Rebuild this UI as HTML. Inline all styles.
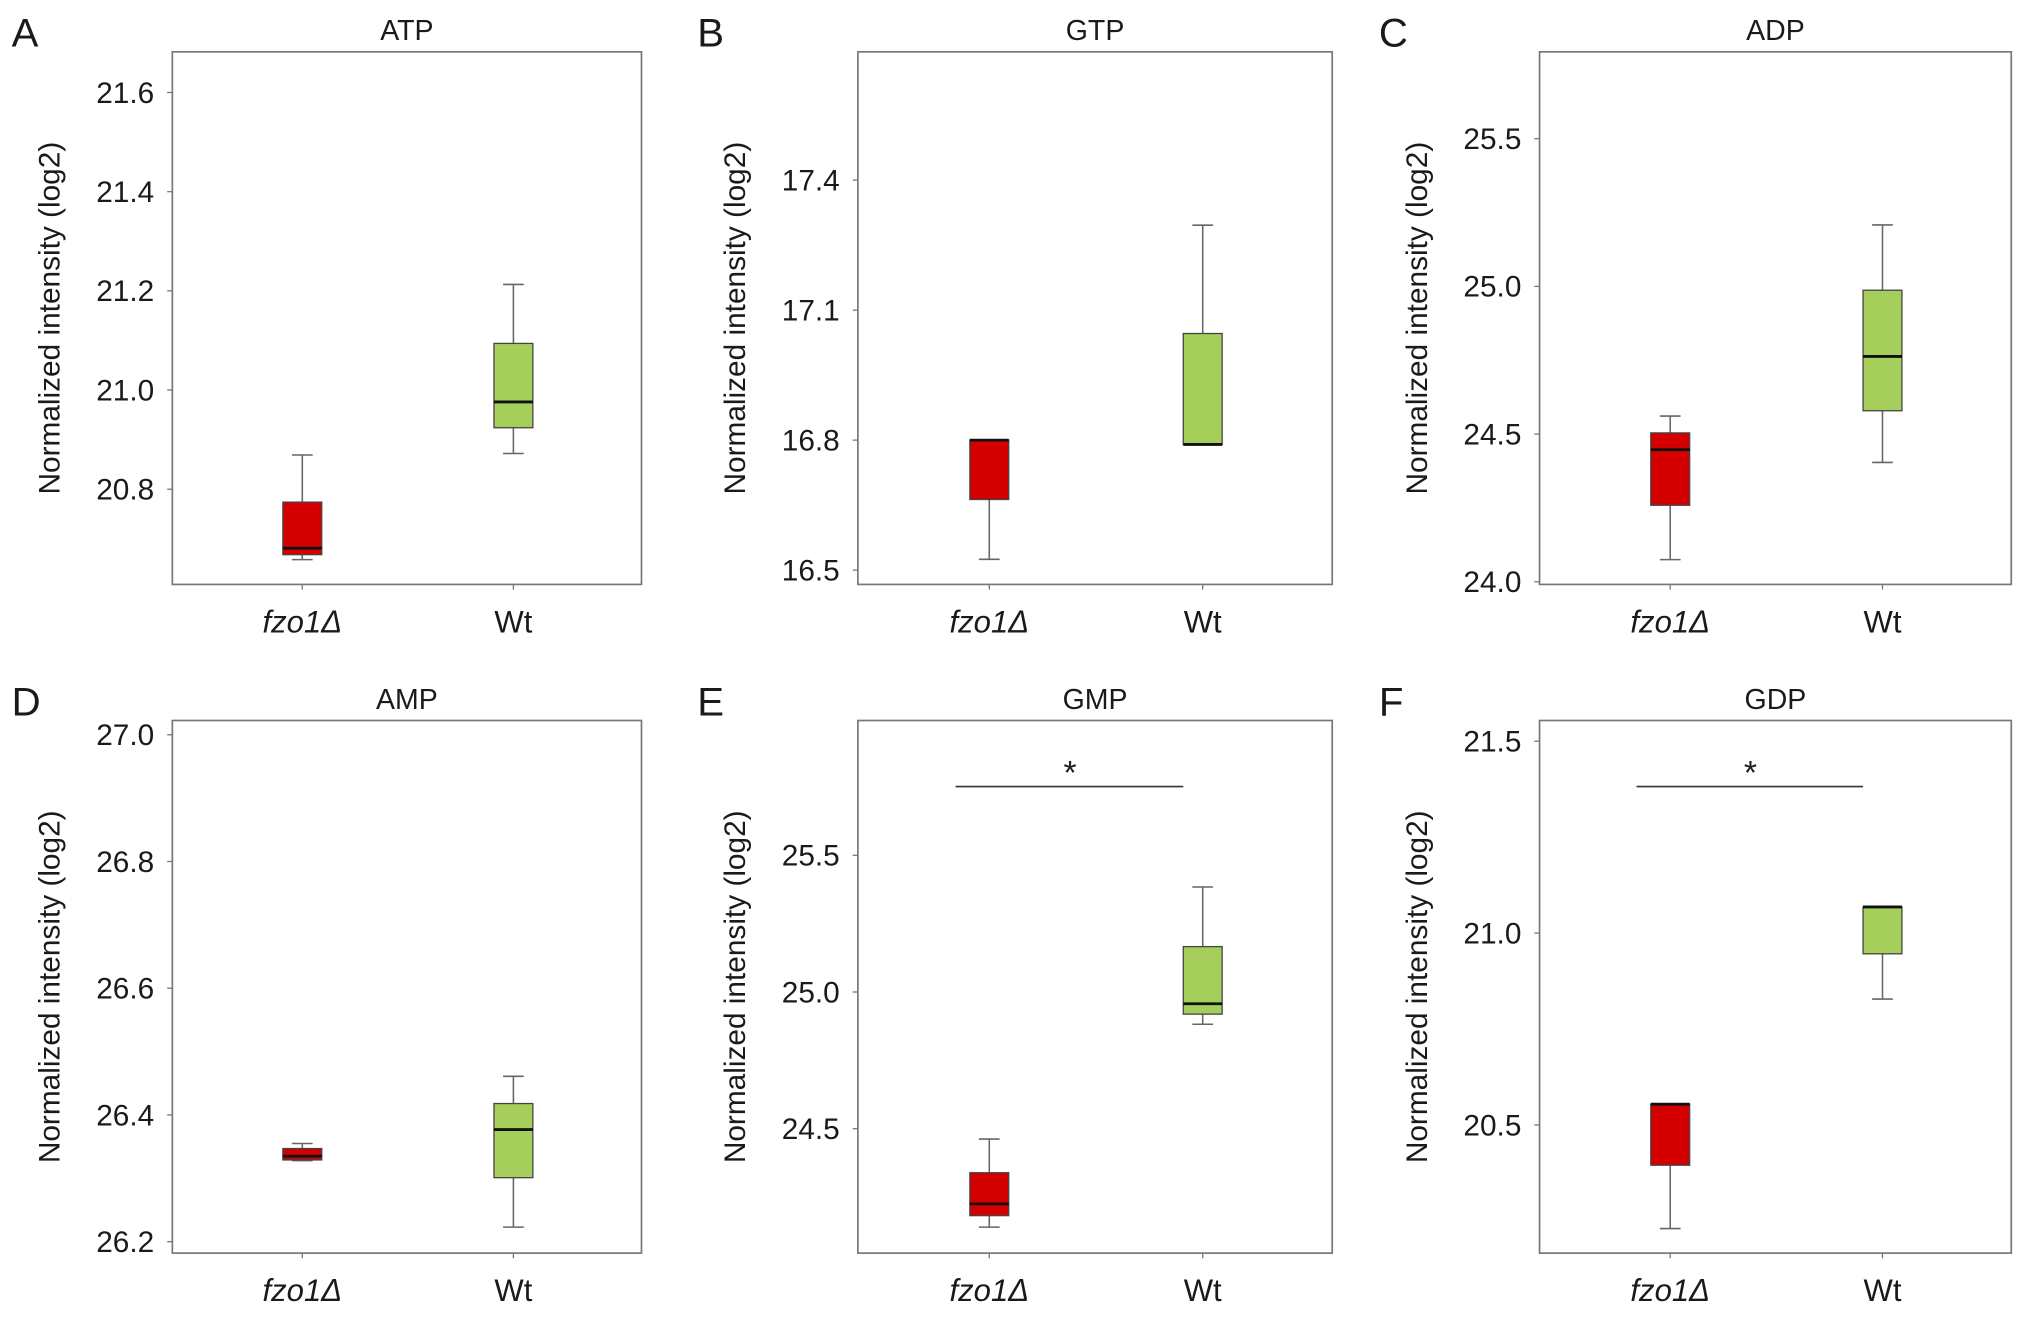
<!DOCTYPE html>
<html><head><meta charset="utf-8"><style>
html,body{margin:0;padding:0;background:#fff}
svg{display:block}
text{font-family:"Liberation Sans",Arial,sans-serif;fill:#1a1a1a}
</style></head><body>
<svg id="fig" width="2032" height="1321" viewBox="0 0 1568 1019.4" preserveAspectRatio="none" xmlns="http://www.w3.org/2000/svg"></svg>
<script>
const panelLetters = ["A","B","C","D","E","F"];
const panelTitles = ["ATP","GTP","ADP","AMP","GMP","GDP"];
const categories = ["fzo1Δ","Wt"];
const yDomains = [[20.608,21.682],[16.467,17.696],[23.991,25.794],[26.182,27.0225],[24.045,25.993],[20.166,21.554]];
const yTicks = [[20.8,21.0,21.2,21.4,21.6],[16.5,16.8,17.1,17.4],[24.0,24.5,25.0,25.5],[26.2,26.4,26.6,26.8,27.0],[24.5,25.0,25.5],[20.5,21.0,21.5]];
const tickLabels = [["20.8","21.0","21.2","21.4","21.6"],["16.5","16.8","17.1","17.4"],["24.0","24.5","25.0","25.5"],["26.2","26.4","26.6","26.8","27.0"],["24.5","25.0","25.5"],["20.5","21.0","21.5"]];
// [whiskerLow, q1, median, q3, whiskerHigh]
const fzoStats = [[20.658,20.668,20.681,20.774,20.869],[16.525,16.663,16.8,16.8,16.8],[24.075,24.259,24.447,24.504,24.561],[26.328,26.329,26.335,26.347,26.355],[24.14,24.182,24.225,24.339,24.462],[20.23,20.395,20.554,20.554,20.554]];
const wtStats = [[20.872,20.924,20.976,21.094,21.213],[16.79,16.79,16.79,17.046,17.296],[24.404,24.579,24.763,24.987,25.208],[26.223,26.301,26.377,26.418,26.461],[24.882,24.919,24.957,25.166,25.384],[20.828,20.946,21.068,21.068,21.068]];
const significant = [false,false,false,false,true,true];

const NS="http://www.w3.org/2000/svg";
const svg=document.getElementById('fig');
function mk(tag,attrs,parent){const e=document.createElementNS(NS,tag);for(const k in attrs)e.setAttribute(k,attrs[k]);(parent||svg).appendChild(e);return e;}
const cols=[[133,495],[662,1028],[1188,1552]];
const rows=[[40,451],[556,967]];
const colors=["#d40000","#a5cf5a"];
for(let p=0;p<6;p++){
  const [x0,x1]=cols[p%3],[y0,y1]=rows[Math.floor(p/3)];
  const [dmin,dmax]=yDomains[p];
  const y=v=>y1-(v-dmin)/(dmax-dmin)*(y1-y0);
  const g=mk('g',{});
  
  
  const L=mk('text',{x:x0-124,y:y0-4,'font-size':31},g);L.textContent=panelLetters[p];
  
  const T=mk('text',{x:(x0+x1)/2,y:y0-9,'font-size':22,'text-anchor':'middle'},g);T.textContent=panelTitles[p];
  
  const F=mk('rect',{x:x0,y:y0,width:x1-x0,height:y1-y0,fill:'none',stroke:'#777','stroke-width':1.3},g);
  
  const YT=mk('text',{transform:`translate(${x0-87},${(y0+y1)/2}) rotate(-90)`,'font-size':23,'text-anchor':'middle'},g);
  YT.textContent='Normalized intensity (log2)';
  
  yTicks[p].forEach((v,i)=>{
    const yy=y(v);
    const tl=mk('line',{x1:x0-4,x2:x0,y1:yy,y2:yy,stroke:'#777','stroke-width':1},g);
    
    const t=mk('text',{x:x0-14,y:yy+8,'font-size':23,'text-anchor':'end'},g);t.textContent=tickLabels[p][i];
    
  });
  const w=x1-x0;
  const centers=[x0+0.277*w,x0+0.727*w];
  [fzoStats[p],wtStats[p]].forEach((s,ci)=>{
    const cx=centers[ci],bw=15;
    const xt=mk('line',{x1:cx,x2:cx,y1:y1,y2:y1+4,stroke:'#777'},g);
    
    const xl=mk('text',{x:cx,y:y1+37,'font-size':24,'text-anchor':'middle','font-style':ci==0?'italic':'normal'},g);
    xl.textContent=categories[ci];
    
    const wl=mk('line',{x1:cx,x2:cx,y1:y(s[4]),y2:y(s[0]),stroke:'#666','stroke-width':1.2},g);
    
    [s[0],s[4]].forEach(v=>{const c=mk('line',{x1:cx-8,x2:cx+8,y1:y(v),y2:y(v),stroke:'#666','stroke-width':1.2},g);
      });
    const b=mk('rect',{x:cx-bw,y:y(s[3]),width:2*bw,height:Math.max(1,y(s[1])-y(s[3])),fill:colors[ci],stroke:'#444','stroke-width':1},g);
    
    const m=mk('line',{x1:cx-bw,x2:cx+bw,y1:y(s[2]),y2:y(s[2]),stroke:'#111','stroke-width':2.2},g);
    
  });
  if(significant[p]){
    const sy=y0+51;
    const sl=mk('line',{x1:centers[0]-26,x2:centers[1]-15,y1:sy,y2:sy,stroke:'#333','stroke-width':1.3},g);
    
    const st=mk('text',{x:(centers[0]+centers[1])/2-20,y:sy-2,'font-size':26,'text-anchor':'middle'},g);st.textContent='*';
    
  }
}
</script>
</body></html>
